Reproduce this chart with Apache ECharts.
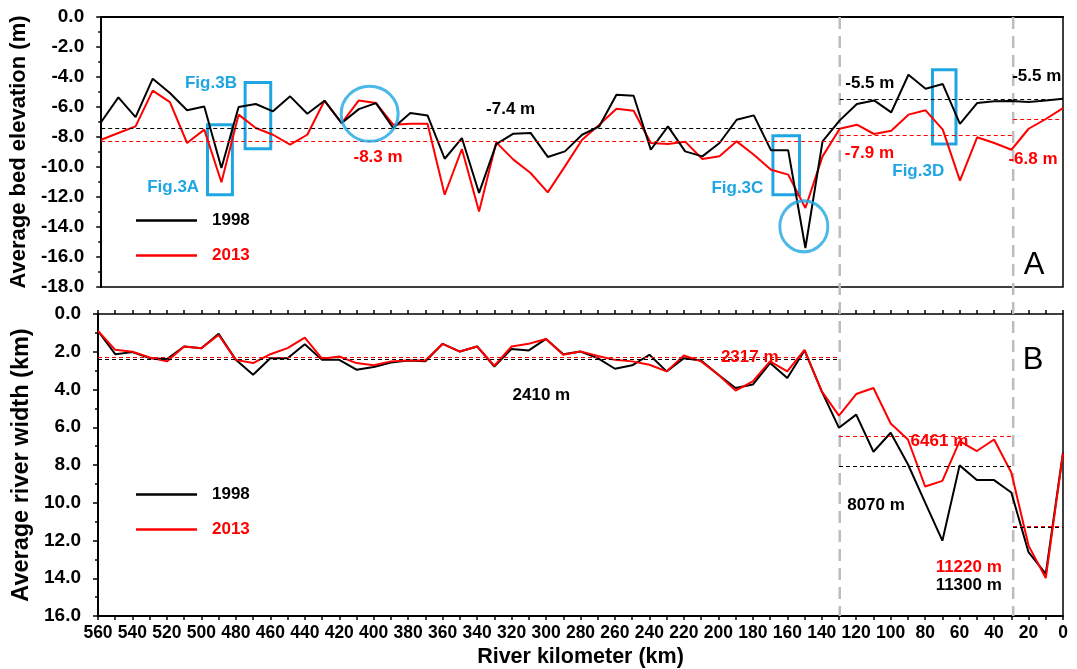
<!DOCTYPE html>
<html>
<head>
<meta charset="utf-8">
<script src="https://cdn.jsdelivr.net/npm/echarts@6/dist/echarts.min.js"></script>
<style>
  html, body { margin: 0; padding: 0; background: #ffffff; }
  #chart { width: 1077px; height: 669px; }
</style>
</head>
<body>
<div id="chart"></div>
<script>
// River kilometre of each cross-section (upstream 560 km -> mouth 0 km)
const riverKm = [560, 550, 540, 530, 520, 510, 500, 490, 480, 470,
                 460, 450, 440, 430, 420, 410, 400, 390, 380, 370,
                 360, 350, 340, 330, 320, 310, 300, 290, 280, 270,
                 260, 250, 240, 230, 220, 210, 200, 190, 180, 170,
                 160, 150, 140, 130, 120, 110, 100, 90, 80, 70,
                 60, 50, 40, 30, 20, 10, 0];

// Average bed elevation (m)
const bed1998 = [-7.0, -5.36, -6.67, -4.11, -5.07, -6.22, -5.96, -10.07, -6.0, -5.8,
                 -6.29, -5.29, -6.45, -5.58, -7.07, -6.14, -5.74, -7.4, -6.4, -6.56,
                 -9.45, -8.07, -11.73, -8.47, -7.78, -7.73, -9.33, -8.96, -7.85, -7.29,
                 -5.18, -5.25, -8.85, -7.29, -8.96, -9.29, -8.4, -6.85, -6.56, -8.89,
                 -8.89, -15.4, -8.29, -6.89, -5.8, -5.56, -6.36, -3.85, -4.78, -4.47,
                 -7.13, -5.74, -5.62, -5.6, -5.67, -5.56, -5.45];
const bed2013 = [-8.18, -7.73, -7.29, -4.91, -5.67, -8.4, -7.51, -11.02, -6.51, -7.4,
                 -7.85, -8.51, -7.85, -5.58, -7.07, -5.56, -5.74, -7.18, -7.11, -7.11,
                 -11.85, -8.8, -12.96, -8.36, -9.51, -10.4, -11.69, -9.96, -8.18, -7.18,
                 -6.11, -6.25, -8.4, -8.47, -8.31, -9.47, -9.29, -8.29, -9.18, -10.18,
                 -10.51, -12.73, -9.29, -7.45, -7.18, -7.8, -7.58, -6.51, -6.22, -7.51,
                 -10.91, -8.02, -8.4, -8.85, -7.45, -6.8, -6.07];

// Average river width (km)
const width1998 = [0.9, 2.13, 2.02, 2.34, 2.39, 1.72, 1.81, 1.05, 2.43, 3.22,
                   2.34, 2.34, 1.6, 2.43, 2.43, 2.95, 2.81, 2.57, 2.46, 2.5,
                   1.58, 1.99, 1.72, 2.78, 1.85, 1.93, 1.32, 2.13, 1.99, 2.34,
                   2.9, 2.72, 2.16, 3.04, 2.34, 2.46, 3.22, 3.92, 3.74, 2.6,
                   3.39, 1.93, 4.1, 6.03, 5.33, 7.3, 6.29, 7.96, 9.99, 12.01,
                   8.02, 8.79, 8.8, 9.46, 12.62, 13.77, 7.35];
const width2013 = [0.9, 1.9, 2.0, 2.3, 2.51, 1.72, 1.81, 1.11, 2.43, 2.6,
                   2.13, 1.81, 1.25, 2.37, 2.25, 2.6, 2.71, 2.51, 2.46, 2.46,
                   1.58, 1.99, 1.72, 2.74, 1.72, 1.58, 1.32, 2.16, 1.99, 2.22,
                   2.43, 2.51, 2.69, 3.04, 2.2, 2.51, 3.22, 4.06, 3.57, 2.51,
                   3.04, 1.9, 4.1, 5.38, 4.24, 3.92, 5.8, 6.65, 9.14, 8.84,
                   6.73, 7.26, 6.65, 8.4, 12.27, 13.99, 7.38];

// Reach boundaries (km) and reach-averaged values
const reachBreaks = [130, 29];
const reaches = [[560, 130], [130, 29], [29, 0]];
const bedMean1998 = [-7.4, -5.5, -5.5];
const bedMean2013 = [-8.3, -7.9, -6.8];
const widthMean1998 = [2410, 8070, 11300];   // m
const widthMean2013 = [2317, 6461, 11220];   // m

// Where each reach-average label sits [km, value]
const bedLabel1998At = [[321.6, -6.18], [112.5, -4.4], [15.3, -3.96]];
const bedLabel2013At = [[398.8, -9.38], [112.7, -9.11], [17.5, -9.47]];
const widthLabel1998At = [[302.7, 4.32], [108.5, 10.13], [54.7, 14.4]];
const widthLabel2013At = [[181.8, 2.32], [71.7, 6.73], [54.7, 13.41]];

// Highlighted sites: boxes [kmFrom, kmTo, top, bottom], rings [km, value], captions
const siteBoxes = [[498.1, 483.6, -7.18, -11.85], [476.2, 461.3, -4.36, -8.78],
                   [168.9, 153.4, -7.91, -11.85], [76.0, 62.3, -3.51, -8.47]];
const siteRings = [[403.7, -6.45], [150.9, -13.96]];
const ringSizes = [[57, 55], [48, 51]];
const siteNames = ['Fig.3A', 'Fig.3B', 'Fig.3C', 'Fig.3D'];
const siteNameAt = [[518.1, -11.38], [496.1, -4.45], [189.6, -11.4], [84.3, -10.31]];

const FONT = "'Liberation Sans', Arial, Helvetica, sans-serif";
const BLACK = '#000000';
const RED = '#ff0000';
const CYAN = '#1fa6e2';

function pairs(ys) { return riverKm.map((k, i) => [k, ys[i]]); }

function meanLines(values, color) {
  return {
    silent: true,
    symbol: ['none', 'none'],
    label: { show: false },
    lineStyle: { color: color, type: [4, 3], width: 1 },
    data: reaches.map((r, i) => [{ coord: [r[0], values[i]] }, { coord: [r[1], values[i]] }])
  };
}

function meanLabels(texts, at, color) {
  return {
    silent: true,
    symbol: 'rect',
    symbolSize: 0,
    label: {
      show: true, position: 'inside', color: color,
      fontFamily: FONT, fontWeight: 'bold', fontSize: 17,
      formatter: p => p.name
    },
    data: texts.map((t, i) => ({ name: t, coord: at[i] }))
  };
}

const xTickLabelStyle = { color: BLACK, fontFamily: FONT, fontWeight: 'bold', fontSize: 17.5 };
const yTickLabelStyle = { color: BLACK, fontFamily: FONT, fontWeight: 'bold', fontSize: 19 };
const nameStyle = (size) => ({ color: BLACK, fontFamily: FONT, fontWeight: 'bold', fontSize: size });

const chart = echarts.init(document.getElementById('chart'), null, { renderer: 'canvas' });

const option = {
  animation: false,
  backgroundColor: '#ffffff',
  grid: [
    { left: 98, top: 17, width: 965, height: 270, show: true, borderColor: BLACK, borderWidth: 1.5, backgroundColor: 'transparent' },
    { left: 98, top: 314, width: 965, height: 303, show: true, borderColor: BLACK, borderWidth: 1.5, backgroundColor: 'transparent' }
  ],
  xAxis: [
    {
      type: 'value', gridIndex: 0, min: 0, max: 560, interval: 20, inverse: true,
      axisLine: { show: true, lineStyle: { color: BLACK, width: 2 } },
      axisTick: { show: false }, axisLabel: { show: false }, splitLine: { show: false }
    },
    {
      type: 'value', gridIndex: 1, min: 0, max: 560, interval: 20, inverse: true,
      name: 'River kilometer (km)', nameLocation: 'middle', nameGap: 30, nameTextStyle: nameStyle(21.5),
      axisLine: { show: true, onZero: false, lineStyle: { color: BLACK, width: 2 } },
      axisTick: { show: true, length: 4, lineStyle: { color: BLACK, width: 1.5 } },
      minorTick: { show: true, splitNumber: 2, length: 4, lineStyle: { color: BLACK, width: 1.5 } },
      axisLabel: Object.assign({ margin: 8 }, xTickLabelStyle),
      splitLine: { show: false }, minorSplitLine: { show: false }
    },
    {
      type: 'value', gridIndex: 1, min: 0, max: 560, interval: 20, inverse: true, position: 'bottom',
      axisLine: { show: false },
      axisTick: { show: true, inside: true, length: 4, lineStyle: { color: BLACK, width: 1.5 } },
      minorTick: { show: true, splitNumber: 2, length: 4, lineStyle: { color: BLACK, width: 1.5 } },
      axisLabel: { show: false }, splitLine: { show: false }, minorSplitLine: { show: false }
    }
  ],
  yAxis: [
    {
      type: 'value', gridIndex: 0, min: -18, max: 0, interval: 2,
      name: 'Average bed elevation (m)', nameLocation: 'middle', nameGap: 64, nameTextStyle: nameStyle(22),
      axisLine: { show: true, onZero: false, lineStyle: { color: BLACK, width: 2 } },
      axisTick: { show: true, length: 5, lineStyle: { color: BLACK, width: 1.5 } },
      minorTick: { show: true, splitNumber: 2, length: 3, lineStyle: { color: BLACK, width: 1.5 } },
      axisLabel: Object.assign({ margin: 17, formatter: v => v.toFixed(1) }, yTickLabelStyle),
      splitLine: { show: false }, minorSplitLine: { show: false }
    },
    {
      type: 'value', gridIndex: 1, min: 0, max: 16, interval: 2, inverse: true,
      name: 'Average river width (km)', nameLocation: 'middle', nameGap: 64, nameTextStyle: nameStyle(23.5),
      axisLine: { show: true, onZero: false, lineStyle: { color: BLACK, width: 2 } },
      axisTick: { show: true, length: 5, lineStyle: { color: BLACK, width: 1.5 } },
      minorTick: { show: true, splitNumber: 2, length: 3, lineStyle: { color: BLACK, width: 1.5 } },
      axisLabel: Object.assign({ margin: 17, formatter: v => v.toFixed(1) }, yTickLabelStyle),
      splitLine: { show: false }, minorSplitLine: { show: false }
    }
  ],
  legend: [
    {
      orient: 'vertical', left: 136, top: 212, padding: 0, itemGap: 18,
      icon: 'rect', itemWidth: 61, itemHeight: 2.5, selectedMode: false,
      textStyle: { fontFamily: FONT, fontWeight: 'bold', fontSize: 17, padding: [0, 0, 0, 10] },
      data: [{ name: '1998', textStyle: { color: BLACK } }, { name: '2013', textStyle: { color: RED } }]
    },
    {
      orient: 'vertical', left: 136, top: 486, padding: 0, itemGap: 18,
      icon: 'rect', itemWidth: 61, itemHeight: 2.5, selectedMode: false,
      textStyle: { fontFamily: FONT, fontWeight: 'bold', fontSize: 17, padding: [0, 0, 0, 10] },
      data: [{ name: '1998', textStyle: { color: BLACK } }, { name: '2013', textStyle: { color: RED } }]
    }
  ],
  series: [
    {
      name: '1998', type: 'line', xAxisIndex: 0, yAxisIndex: 0, data: pairs(bed1998),
      color: BLACK, symbol: 'none', lineStyle: { color: BLACK, width: 2 }, z: 4,
      markLine: meanLines(bedMean1998, BLACK),
      markPoint: meanLabels(bedMean1998.map(v => v.toFixed(1) + ' m'), bedLabel1998At, BLACK)
    },
    {
      name: '2013', type: 'line', xAxisIndex: 0, yAxisIndex: 0, data: pairs(bed2013),
      color: RED, symbol: 'none', lineStyle: { color: RED, width: 2 }, z: 3,
      markLine: meanLines(bedMean2013, RED),
      markPoint: meanLabels(bedMean2013.map(v => v.toFixed(1) + ' m'), bedLabel2013At, RED)
    },
    {
      name: 'sites', type: 'scatter', xAxisIndex: 0, yAxisIndex: 0, z: 5, silent: true,
      data: siteRings.map((c, i) => ({ value: c, symbolSize: ringSizes[i] })),
      symbol: 'circle',
      itemStyle: { color: 'transparent', borderColor: CYAN, borderWidth: 3 },
      markArea: {
        silent: true,
        itemStyle: { color: 'transparent', borderColor: CYAN, borderWidth: 3 },
        label: { show: false },
        data: siteBoxes.map(b => [{ coord: [b[0], b[2]] }, { coord: [b[1], b[3]] }])
      },
      markPoint: {
        silent: true, symbol: 'rect', symbolSize: 0,
        label: {
          show: true, position: 'inside', color: CYAN,
          fontFamily: FONT, fontWeight: 'bold', fontSize: 17, formatter: p => p.name
        },
        data: siteNames.map((n, i) => ({ name: n, coord: siteNameAt[i] }))
      }
    },
    {
      name: '1998', type: 'line', xAxisIndex: 1, yAxisIndex: 1, data: pairs(width1998),
      color: BLACK, symbol: 'none', lineStyle: { color: BLACK, width: 2 }, z: 3,
      markLine: meanLines(widthMean1998.map(m => m / 1000), BLACK),
      markPoint: meanLabels(widthMean1998.map(m => m + ' m'), widthLabel1998At, BLACK)
    },
    {
      name: '2013', type: 'line', xAxisIndex: 1, yAxisIndex: 1, data: pairs(width2013),
      color: RED, symbol: 'none', lineStyle: { color: RED, width: 2 }, z: 4,
      markLine: meanLines(widthMean2013.map(m => m / 1000), RED),
      markPoint: meanLabels(widthMean2013.map(m => m + ' m'), widthLabel2013At, RED)
    }
  ]
};

chart.setOption(option);

// Reach boundaries run through both panels; panel letters sit at the right
const yTop = chart.convertToPixel({ yAxisIndex: 0 }, 0);
const yBottom = chart.convertToPixel({ yAxisIndex: 1 }, 16);
const graphics = reachBreaks.map(km => {
  const x = chart.convertToPixel({ xAxisIndex: 0 }, km);
  return {
    type: 'line', z: 1, silent: true,
    shape: { x1: x, y1: yTop, x2: x, y2: yBottom },
    style: { stroke: '#bdbdbd', lineWidth: 2.5, lineDash: [12, 7] }
  };
});
graphics.push(
  { type: 'text', z: 10, silent: true, style: { text: 'A', x: 1034, y: 265, align: 'center', verticalAlign: 'middle', font: "31px 'Liberation Sans', Arial, sans-serif", fill: BLACK } },
  { type: 'text', z: 10, silent: true, style: { text: 'B', x: 1033, y: 360, align: 'center', verticalAlign: 'middle', font: "31px 'Liberation Sans', Arial, sans-serif", fill: BLACK } }
);
chart.setOption({ graphic: graphics });
</script>
</body>
</html>
